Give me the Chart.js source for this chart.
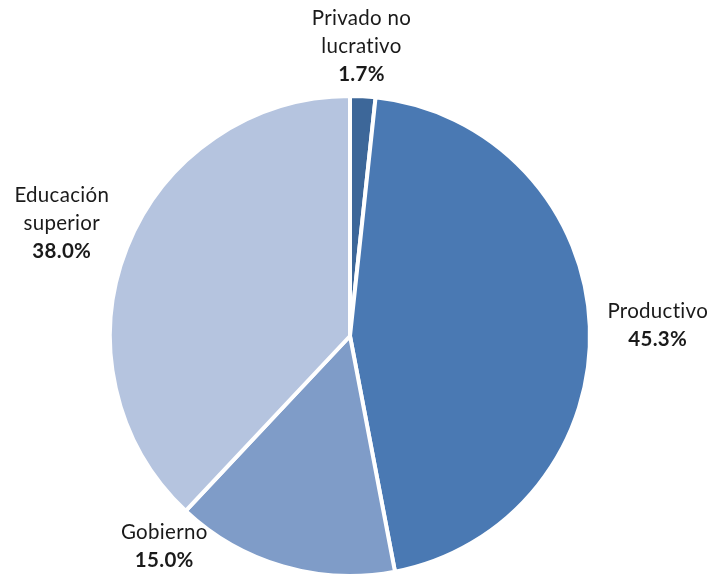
<!DOCTYPE html>
<html>
<head>
<meta charset="utf-8">
<script src="https://cdn.jsdelivr.net/npm/chart.js@4"></script>
<style>
  html, body { margin: 0; padding: 0; background: #fff; }
  #wrap { width: 712px; height: 578px; }
</style>
</head>
<body>
<div id="wrap"><canvas id="myChart" width="712" height="578"></canvas></div>
<script>
let sectors = ["Privado no lucrativo", "Productivo", "Gobierno", "Educación superior"];
let labelLines = [["Privado no", "lucrativo"], ["Productivo"], ["Gobierno"], ["Educación", "superior"]];
let shares = [1.7, 45.3, 15.0, 38.0];
let sliceColors = ["#3D6799", "#4A79B3", "#7F9CC8", "#B5C4DF"];

// label placement: gap beyond the rim along the slice middle, plus a nudge
let labelPlace = [
  { gap: 50, dx: -4, dy: 0 },
  { gap: 68, dx: 0, dy: 2 },
  { gap: 10, dx: -116, dy: -30 },
  { gap: 70, dx: 0, dy: 2 },
];

const outsideLabels = {
  id: "outsideLabels",
  afterDraw(chart) {
    const ctx = chart.ctx;
    const arcs = chart.getDatasetMeta(0).data;
    arcs.forEach((arc, i) => {
      const p = arc.getProps(["x", "y", "startAngle", "endAngle", "outerRadius"], true);
      const mid = (p.startAngle + p.endAngle) / 2;
      const r = p.outerRadius + labelPlace[i].gap;
      const cx = p.x + Math.cos(mid) * r + labelPlace[i].dx;
      const cy = p.y + Math.sin(mid) * r + labelPlace[i].dy;
      const lines = labelLines[i].concat([shares[i].toFixed(1) + "%"]);
      const lh = 28;
      const top = cy - (lines.length - 1) * lh / 2;
      ctx.save();
      ctx.textAlign = "center";
      ctx.textBaseline = "middle";
      ctx.fillStyle = "#1a1a1a";
      ctx.letterSpacing = "0.3px";
      lines.forEach((t, k) => {
        const last = k === lines.length - 1;
        ctx.font = (last ? "bold " : "") + "20.5px Lato";
        ctx.fillText(t, cx, top + k * lh);
      });
      ctx.restore();
    });
  },
};

function chartJs() {
  const ctx = document.getElementById("myChart");
  new Chart(ctx, {
    type: "pie",
    data: {
      labels: sectors,
      datasets: [
        {
          data: shares,
          backgroundColor: sliceColors,
          borderColor: "#ffffff",
          borderWidth: 4,
        },
      ],
    },
    options: {
      responsive: false,
      animation: false,
      layout: {
        padding: { left: 106, right: 118, top: 94, bottom: -4 },
      },
      plugins: {
        legend: { display: false },
        tooltip: { enabled: false },
      },
    },
    plugins: [outsideLabels],
  });
}
chartJs();
</script>
</body>
</html>
